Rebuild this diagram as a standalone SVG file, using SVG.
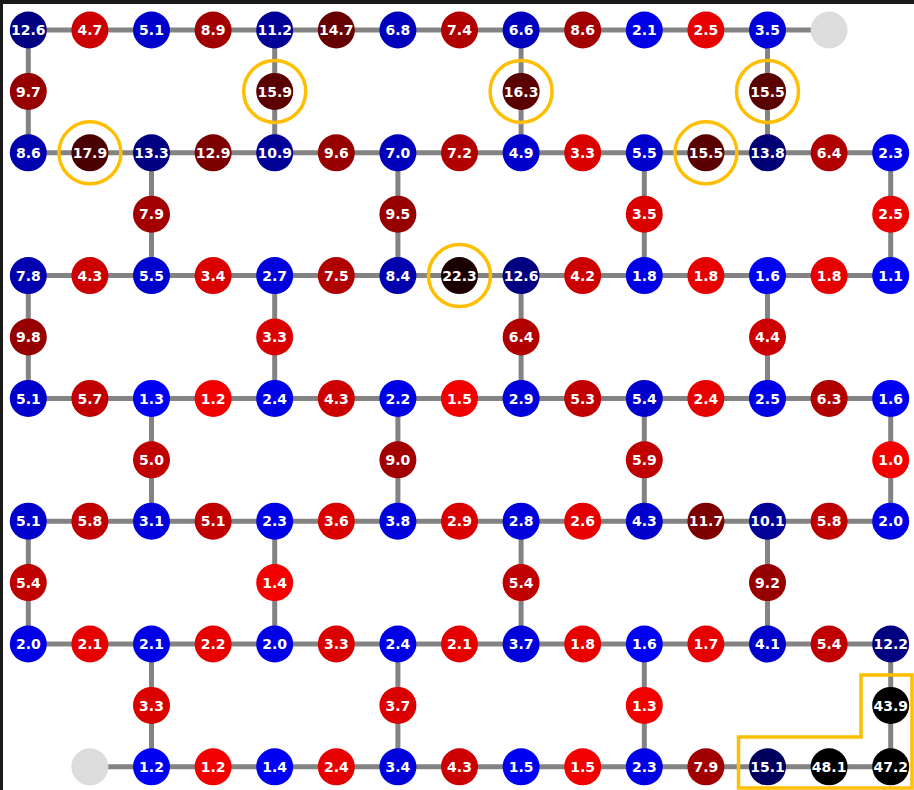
<svg xmlns="http://www.w3.org/2000/svg" width="914" height="790" viewBox="0 0 914 790">
<style>
text{font-family:"DejaVu Sans","Liberation Sans",sans-serif;font-weight:bold;font-size:14px;fill:#fff;text-anchor:middle}
circle{stroke:none}
.e{stroke:#838383;stroke-width:5;fill:none}
.ring{fill:none;stroke:#FFBF00;stroke-width:3.5}
.g{fill:#dcdcdc}
.k{fill:#000}
.b1{fill:#0000f2}.b2{fill:#0000e6}.b3{fill:#0000da}.b4{fill:#0000cc}.b5{fill:#0000bc}.b6{fill:#0000ae}.b7{fill:#000096}.b8{fill:#000080}.b9{fill:#000074}.b10{fill:#00005c}
.r1{fill:#f20000}.r2{fill:#e60000}.r3{fill:#da0000}.r4{fill:#cc0000}.r5{fill:#c00000}.r6{fill:#b00000}.r7{fill:#a20000}.r8{fill:#960000}.r9{fill:#7c0000}.r10{fill:#660000}.r11{fill:#5a0000}.r12{fill:#4a0000}.r13{fill:#1a0000}
</style>
<defs>
<circle id="c" r="18.5"/>
</defs>
<rect x="0" y="0" width="914" height="790" fill="#fff"/>
<rect x="0" y="0" width="914" height="4" fill="#1a1a1a"/>
<rect x="0" y="0" width="3" height="790" fill="#1a1a1a"/>
<g id="connectors">
<path class="e" d="M28.3,30H829.1 M28.3,152.8H890.7 M28.3,275.6H890.7 M28.3,398.4H890.7 M28.3,521.2H890.7 M28.3,644H890.7 M89.9,766.8H890.7"/>
<path class="e" d="M28.3,30V152.8 M274.7,30V152.8 M521.1,30V152.8 M767.5,30V152.8
M151.5,152.8V275.6 M397.9,152.8V275.6 M644.3,152.8V275.6 M890.7,152.8V275.6
M28.3,275.6V398.4 M274.7,275.6V398.4 M521.1,275.6V398.4 M767.5,275.6V398.4
M151.5,398.4V521.2 M397.9,398.4V521.2 M644.3,398.4V521.2 M890.7,398.4V521.2
M28.3,521.2V644 M274.7,521.2V644 M521.1,521.2V644 M767.5,521.2V644
M151.5,644V766.8 M397.9,644V766.8 M644.3,644V766.8 M890.7,644V766.8"/>
</g>
<!-- row 0 -->
<g id="n0_0" transform="translate(28.3,30)"><circle class="b8" r="18.5"/><text y="5.1">12.6</text></g>
<g id="n0_1" transform="translate(89.9,30)"><circle class="r4" r="18.5"/><text y="5.1">4.7</text></g>
<g id="n0_2" transform="translate(151.5,30)"><circle class="b4" r="18.5"/><text y="5.1">5.1</text></g>
<g id="n0_3" transform="translate(213.1,30)"><circle class="r7" r="18.5"/><text y="5.1">8.9</text></g>
<g id="n0_4" transform="translate(274.7,30)"><circle class="b7" r="18.5"/><text y="5.1">11.2</text></g>
<g id="n0_5" transform="translate(336.3,30)"><circle class="r10" r="18.5"/><text y="5.1">14.7</text></g>
<g id="n0_6" transform="translate(397.9,30)"><circle class="b5" r="18.5"/><text y="5.1">6.8</text></g>
<g id="n0_7" transform="translate(459.5,30)"><circle class="r6" r="18.5"/><text y="5.1">7.4</text></g>
<g id="n0_8" transform="translate(521.1,30)"><circle class="b5" r="18.5"/><text y="5.1">6.6</text></g>
<g id="n0_9" transform="translate(582.7,30)"><circle class="r7" r="18.5"/><text y="5.1">8.6</text></g>
<g id="n0_10" transform="translate(644.3,30)"><circle class="b2" r="18.5"/><text y="5.1">2.1</text></g>
<g id="n0_11" transform="translate(705.9,30)"><circle class="r2" r="18.5"/><text y="5.1">2.5</text></g>
<g id="n0_12" transform="translate(767.5,30)"><circle class="b3" r="18.5"/><text y="5.1">3.5</text></g>
<g id="n0_13" transform="translate(829.1,30)"><circle class="g" r="18.5"/></g>
<!-- row 1 -->
<g id="n1_0" transform="translate(28.3,91.4)"><circle class="r8" r="18.5"/><text y="5.1">9.7</text></g>
<g id="n1_4" transform="translate(274.7,91.4)"><circle class="r11" r="18.5"/><text y="5.1">15.9</text></g>
<g id="n1_8" transform="translate(521.1,91.4)"><circle class="r11" r="18.5"/><text y="5.1">16.3</text></g>
<g id="n1_12" transform="translate(767.5,91.4)"><circle class="r11" r="18.5"/><text y="5.1">15.5</text></g>
<!-- row 2 -->
<g id="n2_0" transform="translate(28.3,152.8)"><circle class="b6" r="18.5"/><text y="5.1">8.6</text></g>
<g id="n2_1" transform="translate(89.9,152.8)"><circle class="r12" r="18.5"/><text y="5.1">17.9</text></g>
<g id="n2_2" transform="translate(151.5,152.8)"><circle class="b8" r="18.5"/><text y="5.1">13.3</text></g>
<g id="n2_3" transform="translate(213.1,152.8)"><circle class="r9" r="18.5"/><text y="5.1">12.9</text></g>
<g id="n2_4" transform="translate(274.7,152.8)"><circle class="b7" r="18.5"/><text y="5.1">10.9</text></g>
<g id="n2_5" transform="translate(336.3,152.8)"><circle class="r8" r="18.5"/><text y="5.1">9.6</text></g>
<g id="n2_6" transform="translate(397.9,152.8)"><circle class="b5" r="18.5"/><text y="5.1">7.0</text></g>
<g id="n2_7" transform="translate(459.5,152.8)"><circle class="r6" r="18.5"/><text y="5.1">7.2</text></g>
<g id="n2_8" transform="translate(521.1,152.8)"><circle class="b4" r="18.5"/><text y="5.1">4.9</text></g>
<g id="n2_9" transform="translate(582.7,152.8)"><circle class="r3" r="18.5"/><text y="5.1">3.3</text></g>
<g id="n2_10" transform="translate(644.3,152.8)"><circle class="b4" r="18.5"/><text y="5.1">5.5</text></g>
<g id="n2_11" transform="translate(705.9,152.8)"><circle class="r11" r="18.5"/><text y="5.1">15.5</text></g>
<g id="n2_12" transform="translate(767.5,152.8)"><circle class="b9" r="18.5"/><text y="5.1">13.8</text></g>
<g id="n2_13" transform="translate(829.1,152.8)"><circle class="r6" r="18.5"/><text y="5.1">6.4</text></g>
<g id="n2_14" transform="translate(890.7,152.8)"><circle class="b2" r="18.5"/><text y="5.1">2.3</text></g>
<!-- row 3 -->
<g id="n3_2" transform="translate(151.5,214.2)"><circle class="r7" r="18.5"/><text y="5.1">7.9</text></g>
<g id="n3_6" transform="translate(397.9,214.2)"><circle class="r8" r="18.5"/><text y="5.1">9.5</text></g>
<g id="n3_10" transform="translate(644.3,214.2)"><circle class="r3" r="18.5"/><text y="5.1">3.5</text></g>
<g id="n3_14" transform="translate(890.7,214.2)"><circle class="r2" r="18.5"/><text y="5.1">2.5</text></g>
<!-- row 4 -->
<g id="n4_0" transform="translate(28.3,275.6)"><circle class="b6" r="18.5"/><text y="5.1">7.8</text></g>
<g id="n4_1" transform="translate(89.9,275.6)"><circle class="r4" r="18.5"/><text y="5.1">4.3</text></g>
<g id="n4_2" transform="translate(151.5,275.6)"><circle class="b4" r="18.5"/><text y="5.1">5.5</text></g>
<g id="n4_3" transform="translate(213.1,275.6)"><circle class="r3" r="18.5"/><text y="5.1">3.4</text></g>
<g id="n4_4" transform="translate(274.7,275.6)"><circle class="b3" r="18.5"/><text y="5.1">2.7</text></g>
<g id="n4_5" transform="translate(336.3,275.6)"><circle class="r6" r="18.5"/><text y="5.1">7.5</text></g>
<g id="n4_6" transform="translate(397.9,275.6)"><circle class="b6" r="18.5"/><text y="5.1">8.4</text></g>
<g id="n4_7" transform="translate(459.5,275.6)"><circle class="r13" r="18.5"/><text y="5.1">22.3</text></g>
<g id="n4_8" transform="translate(521.1,275.6)"><circle class="b8" r="18.5"/><text y="5.1">12.6</text></g>
<g id="n4_9" transform="translate(582.7,275.6)"><circle class="r4" r="18.5"/><text y="5.1">4.2</text></g>
<g id="n4_10" transform="translate(644.3,275.6)"><circle class="b2" r="18.5"/><text y="5.1">1.8</text></g>
<g id="n4_11" transform="translate(705.9,275.6)"><circle class="r2" r="18.5"/><text y="5.1">1.8</text></g>
<g id="n4_12" transform="translate(767.5,275.6)"><circle class="b1" r="18.5"/><text y="5.1">1.6</text></g>
<g id="n4_13" transform="translate(829.1,275.6)"><circle class="r2" r="18.5"/><text y="5.1">1.8</text></g>
<g id="n4_14" transform="translate(890.7,275.6)"><circle class="b1" r="18.5"/><text y="5.1">1.1</text></g>
<!-- row 5 -->
<g id="n5_0" transform="translate(28.3,337)"><circle class="r8" r="18.5"/><text y="5.1">9.8</text></g>
<g id="n5_4" transform="translate(274.7,337)"><circle class="r3" r="18.5"/><text y="5.1">3.3</text></g>
<g id="n5_8" transform="translate(521.1,337)"><circle class="r6" r="18.5"/><text y="5.1">6.4</text></g>
<g id="n5_12" transform="translate(767.5,337)"><circle class="r4" r="18.5"/><text y="5.1">4.4</text></g>
<!-- row 6 -->
<g id="n6_0" transform="translate(28.3,398.4)"><circle class="b4" r="18.5"/><text y="5.1">5.1</text></g>
<g id="n6_1" transform="translate(89.9,398.4)"><circle class="r5" r="18.5"/><text y="5.1">5.7</text></g>
<g id="n6_2" transform="translate(151.5,398.4)"><circle class="b1" r="18.5"/><text y="5.1">1.3</text></g>
<g id="n6_3" transform="translate(213.1,398.4)"><circle class="r1" r="18.5"/><text y="5.1">1.2</text></g>
<g id="n6_4" transform="translate(274.7,398.4)"><circle class="b2" r="18.5"/><text y="5.1">2.4</text></g>
<g id="n6_5" transform="translate(336.3,398.4)"><circle class="r4" r="18.5"/><text y="5.1">4.3</text></g>
<g id="n6_6" transform="translate(397.9,398.4)"><circle class="b2" r="18.5"/><text y="5.1">2.2</text></g>
<g id="n6_7" transform="translate(459.5,398.4)"><circle class="r1" r="18.5"/><text y="5.1">1.5</text></g>
<g id="n6_8" transform="translate(521.1,398.4)"><circle class="b3" r="18.5"/><text y="5.1">2.9</text></g>
<g id="n6_9" transform="translate(582.7,398.4)"><circle class="r5" r="18.5"/><text y="5.1">5.3</text></g>
<g id="n6_10" transform="translate(644.3,398.4)"><circle class="b4" r="18.5"/><text y="5.1">5.4</text></g>
<g id="n6_11" transform="translate(705.9,398.4)"><circle class="r2" r="18.5"/><text y="5.1">2.4</text></g>
<g id="n6_12" transform="translate(767.5,398.4)"><circle class="b2" r="18.5"/><text y="5.1">2.5</text></g>
<g id="n6_13" transform="translate(829.1,398.4)"><circle class="r6" r="18.5"/><text y="5.1">6.3</text></g>
<g id="n6_14" transform="translate(890.7,398.4)"><circle class="b1" r="18.5"/><text y="5.1">1.6</text></g>
<!-- row 7 -->
<g id="n7_2" transform="translate(151.5,459.8)"><circle class="r5" r="18.5"/><text y="5.1">5.0</text></g>
<g id="n7_6" transform="translate(397.9,459.8)"><circle class="r7" r="18.5"/><text y="5.1">9.0</text></g>
<g id="n7_10" transform="translate(644.3,459.8)"><circle class="r5" r="18.5"/><text y="5.1">5.9</text></g>
<g id="n7_14" transform="translate(890.7,459.8)"><circle class="r1" r="18.5"/><text y="5.1">1.0</text></g>
<!-- row 8 -->
<g id="n8_0" transform="translate(28.3,521.2)"><circle class="b4" r="18.5"/><text y="5.1">5.1</text></g>
<g id="n8_1" transform="translate(89.9,521.2)"><circle class="r5" r="18.5"/><text y="5.1">5.8</text></g>
<g id="n8_2" transform="translate(151.5,521.2)"><circle class="b3" r="18.5"/><text y="5.1">3.1</text></g>
<g id="n8_3" transform="translate(213.1,521.2)"><circle class="r5" r="18.5"/><text y="5.1">5.1</text></g>
<g id="n8_4" transform="translate(274.7,521.2)"><circle class="b2" r="18.5"/><text y="5.1">2.3</text></g>
<g id="n8_5" transform="translate(336.3,521.2)"><circle class="r3" r="18.5"/><text y="5.1">3.6</text></g>
<g id="n8_6" transform="translate(397.9,521.2)"><circle class="b3" r="18.5"/><text y="5.1">3.8</text></g>
<g id="n8_7" transform="translate(459.5,521.2)"><circle class="r3" r="18.5"/><text y="5.1">2.9</text></g>
<g id="n8_8" transform="translate(521.1,521.2)"><circle class="b3" r="18.5"/><text y="5.1">2.8</text></g>
<g id="n8_9" transform="translate(582.7,521.2)"><circle class="r2" r="18.5"/><text y="5.1">2.6</text></g>
<g id="n8_10" transform="translate(644.3,521.2)"><circle class="b4" r="18.5"/><text y="5.1">4.3</text></g>
<g id="n8_11" transform="translate(705.9,521.2)"><circle class="r9" r="18.5"/><text y="5.1">11.7</text></g>
<g id="n8_12" transform="translate(767.5,521.2)"><circle class="b7" r="18.5"/><text y="5.1">10.1</text></g>
<g id="n8_13" transform="translate(829.1,521.2)"><circle class="r5" r="18.5"/><text y="5.1">5.8</text></g>
<g id="n8_14" transform="translate(890.7,521.2)"><circle class="b2" r="18.5"/><text y="5.1">2.0</text></g>
<!-- row 9 -->
<g id="n9_0" transform="translate(28.3,582.6)"><circle class="r5" r="18.5"/><text y="5.1">5.4</text></g>
<g id="n9_4" transform="translate(274.7,582.6)"><circle class="r1" r="18.5"/><text y="5.1">1.4</text></g>
<g id="n9_8" transform="translate(521.1,582.6)"><circle class="r5" r="18.5"/><text y="5.1">5.4</text></g>
<g id="n9_12" transform="translate(767.5,582.6)"><circle class="r8" r="18.5"/><text y="5.1">9.2</text></g>
<!-- row 10 -->
<g id="n10_0" transform="translate(28.3,644)"><circle class="b2" r="18.5"/><text y="5.1">2.0</text></g>
<g id="n10_1" transform="translate(89.9,644)"><circle class="r2" r="18.5"/><text y="5.1">2.1</text></g>
<g id="n10_2" transform="translate(151.5,644)"><circle class="b2" r="18.5"/><text y="5.1">2.1</text></g>
<g id="n10_3" transform="translate(213.1,644)"><circle class="r2" r="18.5"/><text y="5.1">2.2</text></g>
<g id="n10_4" transform="translate(274.7,644)"><circle class="b2" r="18.5"/><text y="5.1">2.0</text></g>
<g id="n10_5" transform="translate(336.3,644)"><circle class="r3" r="18.5"/><text y="5.1">3.3</text></g>
<g id="n10_6" transform="translate(397.9,644)"><circle class="b2" r="18.5"/><text y="5.1">2.4</text></g>
<g id="n10_7" transform="translate(459.5,644)"><circle class="r2" r="18.5"/><text y="5.1">2.1</text></g>
<g id="n10_8" transform="translate(521.1,644)"><circle class="b3" r="18.5"/><text y="5.1">3.7</text></g>
<g id="n10_9" transform="translate(582.7,644)"><circle class="r2" r="18.5"/><text y="5.1">1.8</text></g>
<g id="n10_10" transform="translate(644.3,644)"><circle class="b1" r="18.5"/><text y="5.1">1.6</text></g>
<g id="n10_11" transform="translate(705.9,644)"><circle class="r2" r="18.5"/><text y="5.1">1.7</text></g>
<g id="n10_12" transform="translate(767.5,644)"><circle class="b4" r="18.5"/><text y="5.1">4.1</text></g>
<g id="n10_13" transform="translate(829.1,644)"><circle class="r5" r="18.5"/><text y="5.1">5.4</text></g>
<g id="n10_14" transform="translate(890.7,644)"><circle class="b8" r="18.5"/><text y="5.1">12.2</text></g>
<!-- row 11 -->
<g id="n11_2" transform="translate(151.5,705.4)"><circle class="r3" r="18.5"/><text y="5.1">3.3</text></g>
<g id="n11_6" transform="translate(397.9,705.4)"><circle class="r3" r="18.5"/><text y="5.1">3.7</text></g>
<g id="n11_10" transform="translate(644.3,705.4)"><circle class="r1" r="18.5"/><text y="5.1">1.3</text></g>
<g id="n11_14" transform="translate(890.7,705.4)"><circle class="k" r="18.5"/><text y="5.1">43.9</text></g>
<!-- row 12 -->
<g id="n12_1" transform="translate(89.9,766.8)"><circle class="g" r="18.5"/></g>
<g id="n12_2" transform="translate(151.5,766.8)"><circle class="b1" r="18.5"/><text y="5.1">1.2</text></g>
<g id="n12_3" transform="translate(213.1,766.8)"><circle class="r1" r="18.5"/><text y="5.1">1.2</text></g>
<g id="n12_4" transform="translate(274.7,766.8)"><circle class="b1" r="18.5"/><text y="5.1">1.4</text></g>
<g id="n12_5" transform="translate(336.3,766.8)"><circle class="r2" r="18.5"/><text y="5.1">2.4</text></g>
<g id="n12_6" transform="translate(397.9,766.8)"><circle class="b3" r="18.5"/><text y="5.1">3.4</text></g>
<g id="n12_7" transform="translate(459.5,766.8)"><circle class="r4" r="18.5"/><text y="5.1">4.3</text></g>
<g id="n12_8" transform="translate(521.1,766.8)"><circle class="b1" r="18.5"/><text y="5.1">1.5</text></g>
<g id="n12_9" transform="translate(582.7,766.8)"><circle class="r1" r="18.5"/><text y="5.1">1.5</text></g>
<g id="n12_10" transform="translate(644.3,766.8)"><circle class="b2" r="18.5"/><text y="5.1">2.3</text></g>
<g id="n12_11" transform="translate(705.9,766.8)"><circle class="r7" r="18.5"/><text y="5.1">7.9</text></g>
<g id="n12_12" transform="translate(767.5,766.8)"><circle class="b10" r="18.5"/><text y="5.1">15.1</text></g>
<g id="n12_13" transform="translate(829.1,766.8)"><circle class="k" r="18.5"/><text y="5.1">48.1</text></g>
<g id="n12_14" transform="translate(890.7,766.8)"><circle class="k" r="18.5"/><text y="5.1">47.2</text></g>
<g id="highlights">
<circle class="ring" cx="274.7" cy="91.4" r="31"/>
<circle class="ring" cx="521.1" cy="91.4" r="31"/>
<circle class="ring" cx="767.5" cy="91.4" r="31"/>
<circle class="ring" cx="89.9" cy="152.8" r="31"/>
<circle class="ring" cx="705.9" cy="152.8" r="31"/>
<circle class="ring" cx="459.5" cy="275.6" r="31"/>
<polygon class="ring" points="861,675 912,675 912,788 738.5,788 738.5,737 861,737"/>
</g>
</svg>
